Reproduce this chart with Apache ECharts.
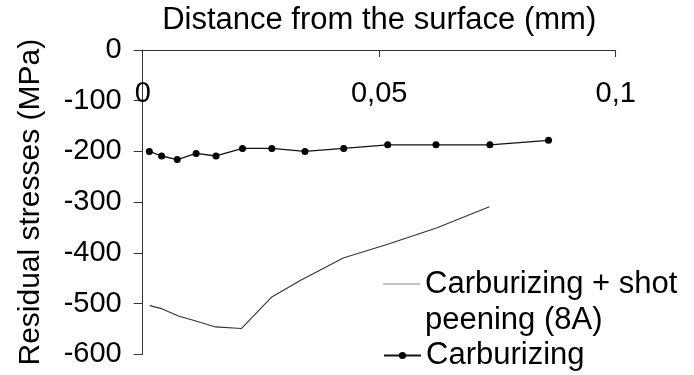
<!DOCTYPE html>
<html>
<head>
<meta charset="utf-8">
<script src="https://cdn.jsdelivr.net/npm/echarts@6/dist/echarts.min.js"></script>
<style>
html,body{margin:0;padding:0;background:#fff;}
#chart{width:694px;height:375px;}
</style>
</head>
<body>
<div id="chart"></div>
<script>
const xTicks = [0, 0.05, 0.1];
const yTicks = [0, -100, -200, -300, -400, -500, -600];

const carbX = [0.0014, 0.0040, 0.0073, 0.0113, 0.0155, 0.0211, 0.0273, 0.0343, 0.0425, 0.0518, 0.0620, 0.0734, 0.0858];
const carbY = [-200, -209, -216, -204, -209, -194, -194, -200, -194, -187, -187, -187, -178];

const peenX = [0.0015, 0.0040, 0.0077, 0.0107, 0.0154, 0.0209, 0.0273, 0.0334, 0.0424, 0.0518, 0.0621, 0.0733];
const peenY = [-504, -510, -525, -533, -546, -549, -487, -454, -410, -383, -351, -309];

const peenName = 'Carburizing + shot\npeening (8A)';
const carbName = 'Carburizing';

const FONT = '"Liberation Sans", Arial, sans-serif';

const chart = echarts.init(document.getElementById('chart'), null, {renderer: 'canvas'});
chart.setOption({
  animation: false,
  backgroundColor: '#fff',
  grid: {left: 142.7, right: 78.3, top: 46, bottom: 20.7, containLabel: false},
  legend: [
    {
      data: [{name: peenName, icon: 'path://M0,0H37V1H0Z'}],
      left: 383, top: 230, padding: 0,
      itemWidth: 37, itemHeight: 14, itemGap: 0,
      itemStyle: {color: '#8a8a8a'},
      formatter: n => '\n' + n,
      textStyle: {fontFamily: FONT, fontSize: 31, color: '#000', lineHeight: 36},
      selectedMode: false
    },
    {
      data: [carbName],
      left: 383, top: 339, padding: 0,
      itemWidth: 37, itemHeight: 9,
      textStyle: {fontFamily: FONT, fontSize: 31, color: '#000', lineHeight: 33},
      selectedMode: false
    }
  ],
  xAxis: {
    type: 'value', position: 'top',
    min: 0, max: 0.1, interval: 0.05,
    name: 'Distance from the surface (mm)', nameLocation: 'middle', nameGap: 14,
    nameTextStyle: {fontFamily: FONT, fontSize: 31, color: '#000'},
    axisLine: {show: true, onZero: false, lineStyle: {color: '#333', width: 1}},
    axisTick: {show: true, inside: true, length: 7, lineStyle: {color: '#333'}},
    axisLabel: {inside: true, margin: 29, fontFamily: FONT, fontSize: 29, color: '#000',
      formatter: v => xTicks.includes(v) ? String(v).replace('.', ',') : ''},
    splitLine: {show: false}
  },
  yAxis: {
    type: 'value',
    min: -600, max: 0, interval: 100,
    name: 'Residual stresses (MPa)', nameLocation: 'middle', nameGap: 97, nameRotate: 90,
    nameTextStyle: {fontFamily: FONT, fontSize: 30, color: '#000'},
    axisLine: {show: true, onZero: false, lineStyle: {color: '#333', width: 1}},
    axisTick: {show: true, inside: false, length: 9, lineStyle: {color: '#333'}},
    axisLabel: {margin: 21, fontFamily: FONT, fontSize: 29, color: '#000',
      formatter: v => yTicks.includes(v) ? String(v) : ''},
    splitLine: {show: false}
  },
  series: [
    {
      name: peenName, type: 'line',
      data: peenX.map((x, i) => [x, peenY[i]]),
      symbol: 'none', showSymbol: false,
      lineStyle: {color: '#333', width: 1.1},
      itemStyle: {color: '#333'}
    },
    {
      name: carbName, type: 'line',
      data: carbX.map((x, i) => [x, carbY[i]]),
      symbol: 'circle', symbolSize: 7, showSymbol: true,
      lineStyle: {color: '#111', width: 1.3},
      itemStyle: {color: '#000'}
    }
  ]
});
</script>
</body>
</html>
